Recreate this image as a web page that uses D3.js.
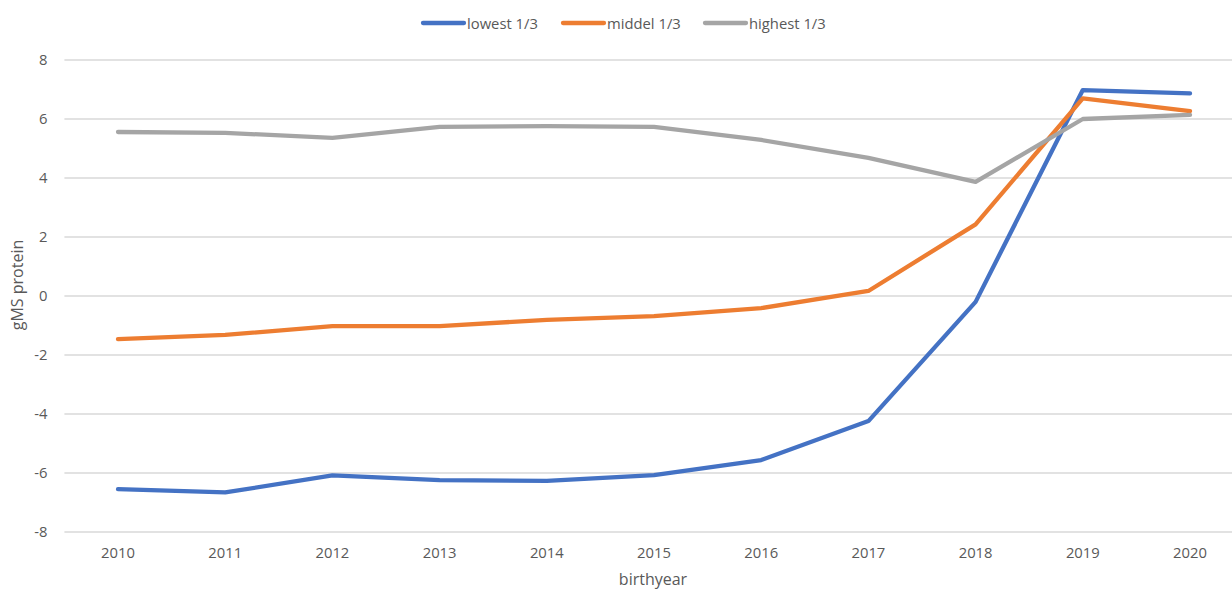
<!DOCTYPE html>
<html>
<head>
<meta charset="utf-8">
<script src="https://cdn.jsdelivr.net/npm/d3@7"></script>
<style>
  html, body { margin: 0; padding: 0; background: #fff; }
  text { font-family: "Open Sans", "Noto Sans", sans-serif; fill: #595959; }
</style>
</head>
<body>
<svg id="chart" width="1232" height="591"></svg>
<script>
const years = [2010, 2011, 2012, 2013, 2014, 2015, 2016, 2017, 2018, 2019, 2020];
const lowest  = [-6.55, -6.66, -6.08, -6.24, -6.27, -6.07, -5.56, -4.24, -0.20, 6.98, 6.87];
const middel  = [-1.46, -1.32, -1.02, -1.02, -0.81, -0.68, -0.41, 0.17, 2.43, 6.70, 6.27];
const highest = [5.56, 5.53, 5.36, 5.73, 5.76, 5.73, 5.29, 4.68, 3.87, 6.00, 6.14];
const seriesNames = ["lowest 1/3", "middel 1/3", "highest 1/3"];
const seriesColors = ["#4472C4", "#ED7D31", "#A5A5A5"];
const yTicks = [-8, -6, -4, -2, 0, 2, 4, 6, 8];

const series = [lowest, middel, highest].map((vals, i) => ({
  name: seriesNames[i], color: seriesColors[i], values: vals
}));

const svg = d3.select("#chart");
const plot = { left: 64.4, right: 1243.6, top: 60, bottom: 532 };

const x = d3.scaleBand().domain(years).range([plot.left, plot.right]).paddingInner(0).paddingOuter(0);
const y = d3.scaleLinear().domain([-8, 8]).range([plot.bottom, plot.top]);
const cx = d => x(d) + x.bandwidth() / 2;

// gridlines
svg.append("g").selectAll("line").data(yTicks).join("line")
  .attr("x1", plot.left).attr("x2", plot.right)
  .attr("y1", d => y(d)).attr("y2", d => y(d))
  .attr("stroke", "#d9d9d9").attr("stroke-width", 1.3);

const fs = 14.8;

// y axis labels
const yAxis = d3.axisLeft(y).tickValues(yTicks).tickSize(0).tickPadding(0)
  .tickFormat(d => d3.format("d")(d).replace("−", "-"));
const ya = svg.append("g").attr("transform", `translate(${plot.left - 17},0)`).call(yAxis);
ya.select(".domain").remove();
ya.selectAll("text").attr("font-size", fs).attr("fill", "#595959")
  .attr("font-family", "'Open Sans', sans-serif");

// x axis labels
const xAxis = d3.axisBottom(x).tickSize(0).tickPadding(0);
const xa = svg.append("g").attr("transform", `translate(0,${plot.bottom + 15})`).call(xAxis);
xa.select(".domain").remove();
xa.selectAll("text").attr("font-size", fs).attr("fill", "#595959")
  .attr("font-family", "'Open Sans', sans-serif");

// lines
const line = d3.line().x((d, i) => cx(years[i])).y(d => y(d));
svg.append("g").selectAll("path").data(series).join("path")
  .attr("d", d => line(d.values))
  .attr("fill", "none")
  .attr("stroke", d => d.color)
  .attr("stroke-width", 4.3)
  .attr("stroke-linejoin", "round")
  .attr("stroke-linecap", "round");

// axis titles
svg.append("text").attr("x", 653).attr("y", 585)
  .attr("text-anchor", "middle").attr("font-size", 16).text("birthyear");
svg.append("text")
  .attr("transform", "translate(23,285) rotate(-90)")
  .attr("text-anchor", "middle").attr("font-size", 16).text("gMS protein");

// legend
const legendX = [423, 563, 705];
const lg = svg.append("g").selectAll("g").data(series).join("g")
  .attr("transform", (d, i) => `translate(${legendX[i]},23)`);
lg.append("line").attr("x1", 0).attr("x2", 41).attr("y1", 0).attr("y2", 0)
  .attr("stroke", d => d.color).attr("stroke-width", 4.3).attr("stroke-linecap", "round");
lg.append("text").attr("x", 44).attr("y", 5.5).attr("font-size", fs).text(d => d.name);
</script>
</body>
</html>
